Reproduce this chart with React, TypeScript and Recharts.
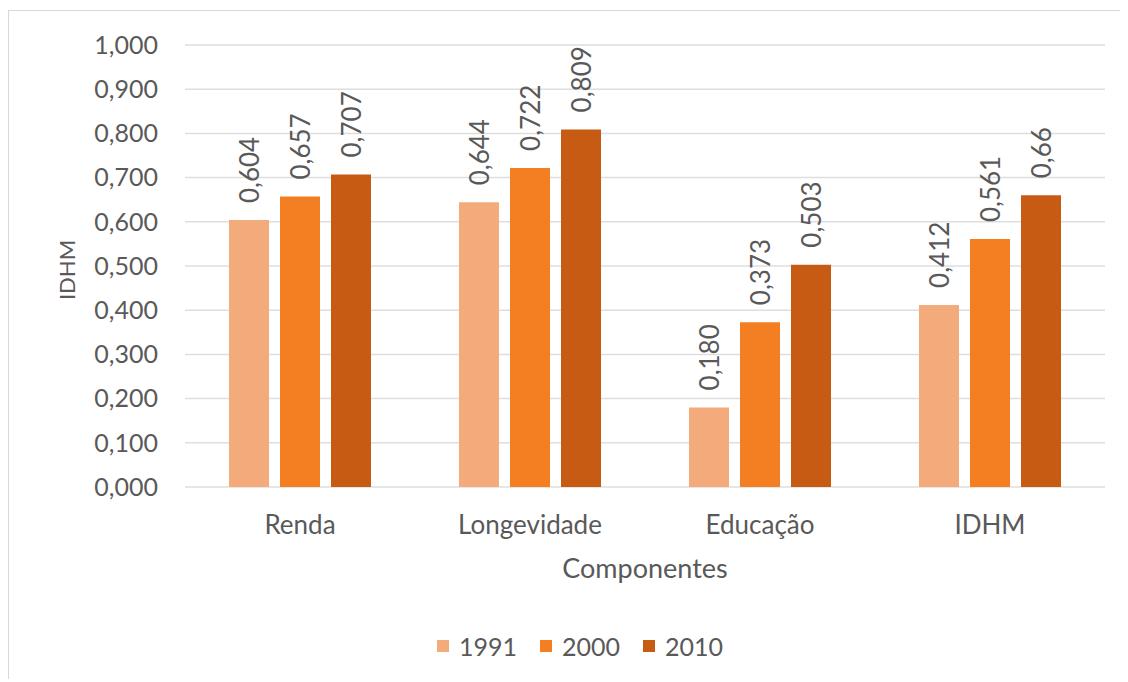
import { BarChart, Bar, XAxis, YAxis, CartesianGrid, Legend, LabelList } from 'recharts';

const categories = ['Renda', 'Longevidade', 'Educação', 'IDHM'];
const idhm1991 = [0.604, 0.644, 0.18, 0.412];
const idhm2000 = [0.657, 0.722, 0.373, 0.561];
const idhm2010 = [0.707, 0.809, 0.503, 0.66];
// labels as printed on the chart (0,66 has no trailing zero)
const labels1991 = ['0,604', '0,644', '0,180', '0,412'];
const labels2000 = ['0,657', '0,722', '0,373', '0,561'];
const labels2010 = ['0,707', '0,809', '0,503', '0,66'];
const yTicks = [0, 0.1, 0.2, 0.3, 0.4, 0.5, 0.6, 0.7, 0.8, 0.9, 1];

const series = [
    { key: 'y1991', label: 'l1991', name: '1991', color: '#F4AB7C' },
    { key: 'y2000', label: 'l2000', name: '2000', color: '#F47F22' },
    { key: 'y2010', label: 'l2010', name: '2010', color: '#C75B14' },
];

const data = categories.map((c, i) => ({
    name: c,
    y1991: idhm1991[i],
    y2000: idhm2000[i],
    y2010: idhm2010[i],
    l1991: labels1991[i],
    l2000: labels2000[i],
    l2010: labels2010[i],
}));

const textColor = '#595959';

const BarLabel = (props: any) => {
    const { x, y, width, value } = props;
    return (
        <text
            x={0}
            y={0}
            transform={`translate(${x + width / 2},${y - 17}) rotate(-90)`}
            dominantBaseline="central"
            textAnchor="start"
            fontSize={26}
            fill={textColor}
        >
            {value}
        </text>
    );
};

const LegendContent = () => (
    <div style={{ height: 24, display: 'flex', justifyContent: 'center', alignItems: 'center', gap: 23 }}>
        {series.map(s => (
            <div key={s.name} style={{ display: 'flex', alignItems: 'center' }}>
                <span style={{ width: 12, height: 12, background: s.color, marginRight: 10, display: 'inline-block' }} />
                <span style={{ fontSize: 25, color: textColor, lineHeight: '24px' }}>{s.name}</span>
            </div>
        ))}
    </div>
);

export default function App() {
    return (
        <div
            style={{
                position: 'relative',
                top: 2,
                width: 1119,
                height: 670,
                borderTop: '1px solid #d9d9d9',
                borderLeft: '1px solid #d9d9d9',
                fontFamily: 'Lato, sans-serif',
                background: '#fff',
            }}
        >
            <BarChart
                width={1119}
                height={670}
                data={data}
                margin={{ top: 34, right: 23, left: 0, bottom: 23 }}
                barCategoryGap={44}
                barGap={11}
            >
                <CartesianGrid vertical={false} stroke="#dedede" strokeWidth={1.5} />
                <XAxis
                    dataKey="name"
                    height={147}
                    axisLine={false}
                    tickLine={false}
                    tickMargin={23}
                    tick={{ fill: textColor, fontSize: 26 }}
                    label={{
                        content: (p: any) => {
                            const vb = p.viewBox;
                            return (
                                <text
                                    x={vb.x + vb.width / 2}
                                    y={vb.y + 80}
                                    textAnchor="middle"
                                    dominantBaseline="central"
                                    fontSize={27}
                                    fill={textColor}
                                >
                                    Componentes
                                </text>
                            );
                        },
                    }}
                />
                <YAxis
                    width={176}
                    domain={[0, 1]}
                    ticks={yTicks}
                    interval={0}
                    axisLine={false}
                    tickLine={false}
                    tickMargin={21}
                    tick={{ fill: textColor, fontSize: 25 }}
                    tickFormatter={(v: number) => v.toFixed(3).replace('.', ',')}
                    label={{
                        content: (p: any) => {
                            const vb = p.viewBox;
                            const cx = vb.x + 57;
                            const cy = vb.y + vb.height / 2 + 4;
                            return (
                                <text
                                    x={0}
                                    y={0}
                                    transform={`translate(${cx},${cy}) rotate(-90)`}
                                    textAnchor="middle"
                                    dominantBaseline="central"
                                    fontSize={22}
                                    fill={textColor}
                                >
                                    IDHM
                                </text>
                            );
                        },
                    }}
                />
                <Legend verticalAlign="bottom" content={<LegendContent />} wrapperStyle={{ left: 300, width: 542 }} />
                {series.map(s => (
                    <Bar key={s.key} dataKey={s.key} name={s.name} fill={s.color} isAnimationActive={false}>
                        <LabelList dataKey={s.label} content={<BarLabel />} />
                    </Bar>
                ))}
            </BarChart>
        </div>
    );
}
